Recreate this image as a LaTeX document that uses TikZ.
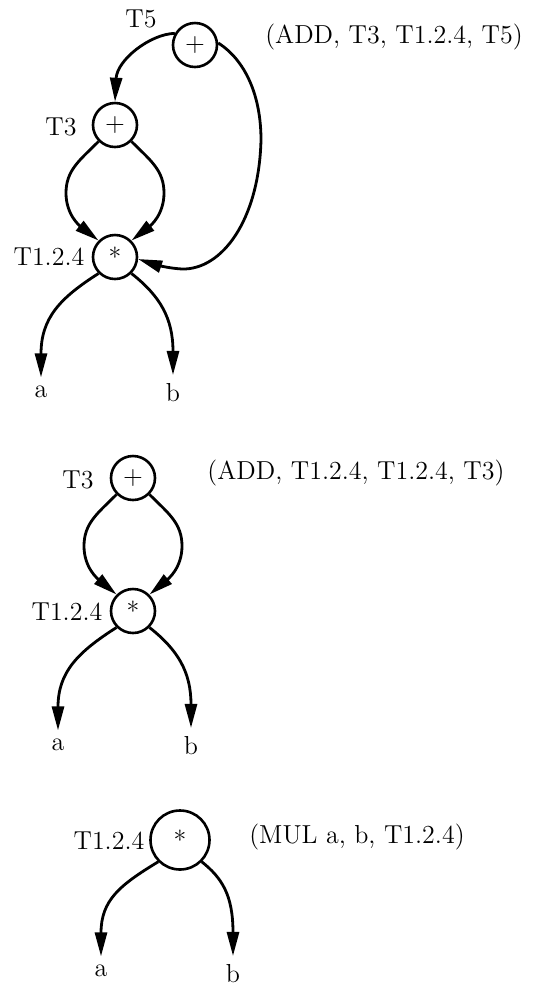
\documentclass[tikz,border=0pt]{standalone}
\usetikzlibrary{arrows.meta}
\begin{document}
\begin{tikzpicture}[x=0.5pt,y=-0.5pt,
  op/.style={circle,draw,line width=1.3pt,minimum size=22pt,inner sep=0pt,font=\fontsize{13}{15}\selectfont},
  opbig/.style={op,minimum size=29.5pt},
  lbl/.style={inner sep=0pt,font=\fontsize{13}{15}\selectfont},
  leaf/.style={lbl,anchor=base,outer sep=4pt},
  conn/.style={line width=1.4pt,-{Triangle[length=12pt,width=6pt]}}]
\useasboundingbox (0,0) rectangle (534,987);

% ---------- top diagram ----------
\node[op] (t5) at (195,45) {+};
\node[op] (t3) at (115,125) {+};
\node[op] (t12) at (115,257) {*};
\node[lbl] (l5) at (141,19) {T5};
\node[lbl] (l3) at (61,127) {T3};
\node[lbl] (l12) at (49,257) {T1.2.4};
\node[lbl] (c1) at (394,37) {(ADD, T3, T1.2.4, T5)};
\node[leaf] (a1) at (41,397) {a};
\node[leaf] (b1) at (173,401) {b};

\draw[conn] (t5.150) .. controls (150,34) and (117,60) .. (t3.north);
\draw[conn] (t3.225) .. controls (80,160) and (66,170) .. (66,193)
  .. controls (66,215) and (80,226) .. (t12.135);
\draw[conn] (t3.315) .. controls (150,160) and (164,170) .. (164,193)
  .. controls (164,215) and (150,226) .. (t12.45);
\draw[conn] (t5.5) .. controls (245,60) and (261,95) .. (261,140)
  .. controls (259,220) and (222,270) .. (182,269)
  .. controls (165,268) and (150,263) .. (t12.-5);
\draw[conn] (t12.225) .. controls (60,298) and (41,318) .. (a1.north);
\draw[conn] (t12.315) .. controls (160,296) and (173,318) .. (b1.north);

% ---------- middle diagram ----------
\node[op] (m3) at (133,478) {+};
\node[op] (m12) at (133,611) {*};
\node[lbl] (ml3) at (78,480) {T3};
\node[lbl] (ml12) at (67,612) {T1.2.4};
\node[lbl] (c2) at (356,473) {(ADD, T1.2.4, T1.2.4, T3)};
\node[leaf] (a2) at (58,750) {a};
\node[leaf] (b2) at (191,754) {b};

\draw[conn] (m3.225) .. controls (98,513) and (84,523) .. (84,546)
  .. controls (84,568) and (98,579) .. (m12.135);
\draw[conn] (m3.315) .. controls (168,513) and (182,523) .. (182,546)
  .. controls (182,568) and (168,579) .. (m12.45);
\draw[conn] (m12.225) .. controls (78,652) and (58,672) .. (a2.north);
\draw[conn] (m12.315) .. controls (178,650) and (191,672) .. (b2.north);

% ---------- bottom diagram ----------
\node[opbig] (b12) at (180,840) {*};
\node[lbl] (bl12) at (109,841) {T1.2.4};
\node[lbl] (c3) at (357,837) {(MUL a, b, T1.2.4)};
\node[leaf] (a3) at (101,976) {a};
\node[leaf] (b3) at (233,982) {b};

\draw[conn] (b12.225) .. controls (120,885) and (101,900) .. (a3.north);
\draw[conn] (b12.315) .. controls (222,878) and (233,895) .. (b3.north);
\end{tikzpicture}
\end{document}
